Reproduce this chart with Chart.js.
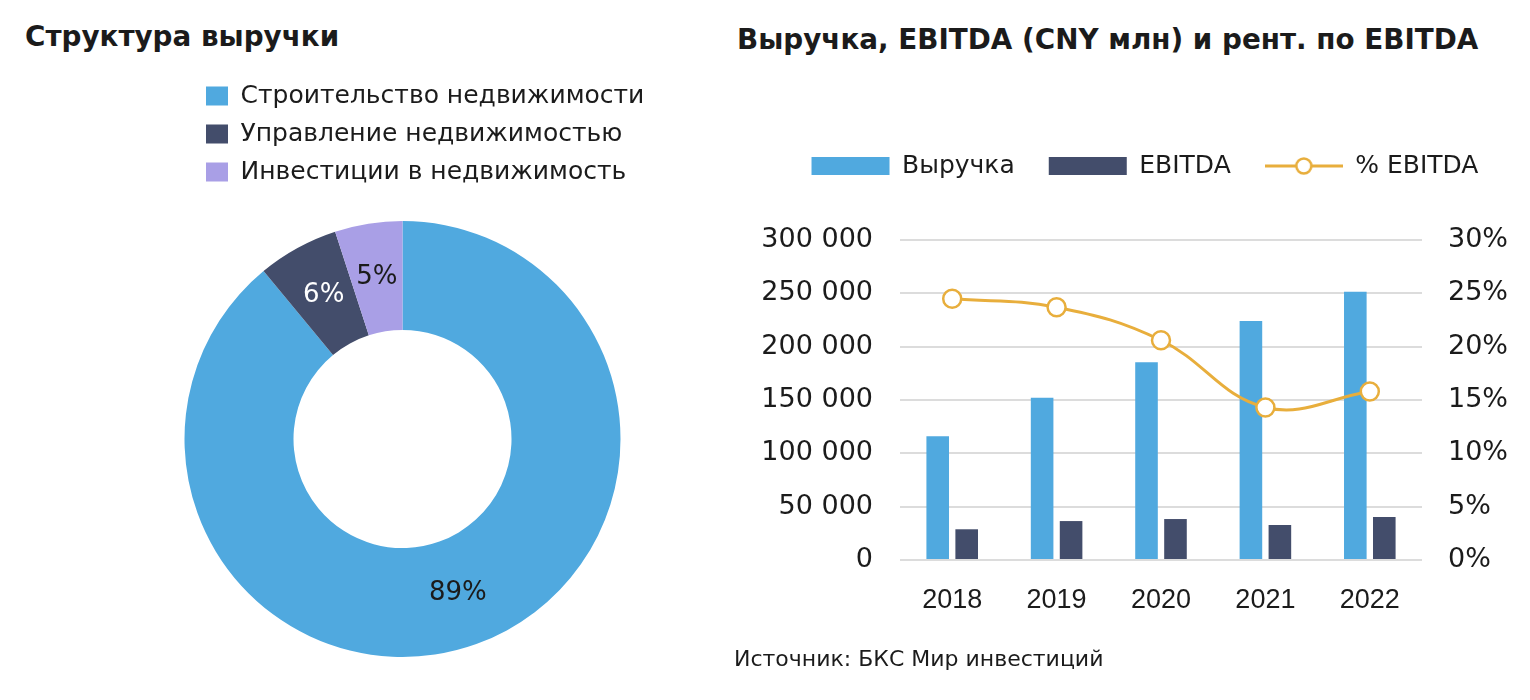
<!DOCTYPE html>
<html lang="ru">
<head>
<meta charset="utf-8">
<script src="https://cdn.jsdelivr.net/npm/chart.js@4.4.1/dist/chart.umd.min.js"></script>
<style>
  body { margin: 0; background: #fff; }
  #wrap { position: relative; width: 1530px; height: 700px; font-family: 'DejaVu Sans', sans-serif; color: #1b1b1b; }
  .ttl { position: absolute; font-weight: bold; font-size: 27.8px; line-height: 28px; white-space: nowrap; }
  #pieBox { position: absolute; left: 0; top: 0; width: 700px; height: 700px; }
  #barBox { position: absolute; left: 700px; top: 0; width: 830px; height: 700px; }
  #src { position: absolute; left: 734px; top: 648px; font-size: 22px; line-height: 22px; white-space: nowrap; }
</style>
</head>
<body>
<div id="wrap">
  <div class="ttl" style="left:25px;top:23px">Структура выручки</div>
  <div class="ttl" style="left:737px;top:26px">Выручка, EBITDA (CNY млн) и рент. по EBITDA</div>
  <div id="pieBox"><canvas id="pie"></canvas></div>
  <div id="barBox"><canvas id="bar"></canvas></div>
  <div id="src">Источник: БКС Мир инвестиций</div>
</div>
<script>
// revenue structure, %
const shareLabels = ['Строительство недвижимости', 'Управление недвижимостью', 'Инвестиции в недвижимость'];
const shareValues = [89, 6, 5];

// revenue / EBITDA, CNY mln, and EBITDA margin, %
const years = ['2018', '2019', '2020', '2021', '2022'];
const revenue = [116000, 152000, 185500, 224000, 251500];
const ebitda = [28800, 36500, 38400, 32800, 40300];
const margin = [24.5, 23.7, 20.6, 14.3, 15.8];
const leftTicks = [0, 50000, 100000, 150000, 200000, 250000, 300000];
const rightTicks = [0, 5, 10, 15, 20, 25, 30];

const BLUE = '#50A9DF', NAVY = '#434D6B', LILAC = '#A99FE6', GOLD = '#E8AE3C';
const shareColors = [BLUE, NAVY, LILAC];
const shareText = ['#1b1b1b', '#ffffff', '#1b1b1b'];

const SANS = "'DejaVu Sans', sans-serif";
const ARIAL = "'Liberation Sans', Arial, sans-serif";
Chart.defaults.font.family = SANS;
Chart.defaults.color = '#1b1b1b';
Chart.defaults.animation = false;

const fmt = v => String(v).replace(/\B(?=(\d{3})+(?!\d))/g, ' ');

// percent labels on the ring
const sliceLabels = {
  id: 'sliceLabels',
  afterDatasetsDraw(chart) {
    const ctx = chart.ctx;
    chart.getDatasetMeta(0).data.forEach((arc, i) => {
      const p = arc.tooltipPosition();
      ctx.save();
      ctx.font = '26px ' + SANS;
      ctx.fillStyle = shareText[i];
      ctx.textAlign = 'center';
      ctx.textBaseline = 'middle';
      ctx.fillText(shareValues[i] + '%', p.x, p.y);
      ctx.restore();
    });
  }
};

new Chart(document.getElementById('pie'), {
  type: 'doughnut',
  data: {
    labels: shareLabels,
    datasets: [{ data: shareValues, backgroundColor: shareColors, borderWidth: 0, radius: 218, cutout: '50%', clip: false }]
  },
  options: {
    responsive: true, maintainAspectRatio: false,
    layout: { padding: { left: 193, right: 0, top: 70.5, bottom: 16.5 } },
    plugins: {
      legend: {
        position: 'top', align: 'start',
        labels: { boxWidth: 22, boxHeight: 19, padding: 13, font: { size: 25 } }
      },
      // empty spacer on the right so the legend keeps full width
      subtitle: { display: true, text: '', position: 'right', fullSize: false, font: { size: 10 }, padding: { top: 0, bottom: 76 } },
      tooltip: { enabled: false }
    }
  },
  plugins: [sliceLabels]
});

// legend icon for the margin line: line with hollow circle
const lineIcon = document.createElement('canvas');
lineIcon.width = 78; lineIcon.height = 22;
(() => {
  const c = lineIcon.getContext('2d');
  c.strokeStyle = GOLD; c.lineWidth = 3;
  c.beginPath(); c.moveTo(0, 11); c.lineTo(78, 11); c.stroke();
  c.beginPath(); c.arc(39, 11, 7.5, 0, Math.PI * 2);
  c.fillStyle = '#fff'; c.fill(); c.lineWidth = 2.5; c.stroke();
})();

new Chart(document.getElementById('bar'), {
  type: 'bar',
  data: {
    labels: years,
    datasets: [
      { label: 'Выручка', data: revenue, backgroundColor: BLUE, yAxisID: 'y', order: 2,
        categoryPercentage: 0.555, barPercentage: 0.78 },
      { label: 'EBITDA', data: ebitda, backgroundColor: NAVY, yAxisID: 'y', order: 2,
        categoryPercentage: 0.555, barPercentage: 0.78 },
      { type: 'line', label: '% EBITDA', data: margin, yAxisID: 'y1', order: 1,
        borderColor: GOLD, borderWidth: 3, tension: 0.4,
        pointRadius: 9, pointBorderWidth: 2.5, pointBackgroundColor: '#fff', pointBorderColor: GOLD }
    ]
  },
  options: {
    responsive: true, maintainAspectRatio: false,
    layout: { padding: { left: 60, right: 0, top: 119.5, bottom: 70 } },
    plugins: {
      tooltip: { enabled: false },
      legend: {
        position: 'top', align: 'center',
        labels: {
          usePointStyle: true, pointStyleWidth: 78, boxHeight: 18, padding: 34, font: { size: 25 },
          sort: (a, b) => a.datasetIndex - b.datasetIndex,
          generateLabels(chart) {
            const items = Chart.defaults.plugins.legend.labels.generateLabels(chart);
            items.forEach(it => {
              it.pointStyle = it.datasetIndex === 2 ? lineIcon : 'rect';
              it.lineWidth = 0;
            });
            return items;
          }
        }
      },
      // empty spacer between legend and plot
      subtitle: { display: true, text: '', weight: 500, font: { size: 10 }, padding: { top: 0, bottom: 39.5 } }
    },
    scales: {
      x: {
        grid: { display: false }, border: { display: false },
        ticks: { font: { size: 27, family: ARIAL }, padding: 16 },
        afterFit: s => { s.height = 70; }
      },
      y: {
        position: 'left', min: 0, max: 300000,
        afterBuildTicks: s => { s.ticks = leftTicks.map(v => ({ value: v })); },
        grid: { color: '#DCDCDC', lineWidth: 2, drawTicks: false }, border: { display: false },
        ticks: { font: { size: 27 }, padding: 27, callback: v => fmt(v) },
        afterFit: s => { s.width = 140; }
      },
      y1: {
        position: 'right', min: 0, max: 30,
        afterBuildTicks: s => { s.ticks = rightTicks.map(v => ({ value: v })); },
        grid: { drawOnChartArea: false, drawTicks: false }, border: { display: false },
        ticks: { font: { size: 27 }, padding: 26, callback: v => v + '%' },
        afterFit: s => { s.width = 108; }
      }
    }
  }
});
</script>
</body>
</html>
